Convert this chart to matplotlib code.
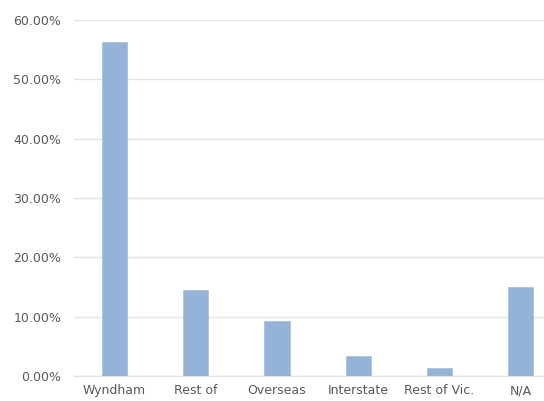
import numpy as np
import matplotlib.pyplot as plt
from matplotlib.ticker import FuncFormatter

categories = ['Wyndham', 'Rest of', 'Overseas', 'Interstate', 'Rest of Vic.', 'N/A']
shares = [56.2, 14.5, 9.3, 3.4, 1.4, 15.0]
yticks = [0, 10, 20, 30, 40, 50, 60]

plt.rcParams['font.family'] = ['DejaVu Sans']

fig = plt.figure(figsize=(5.44, 4.01), dpi=100)
ax = fig.add_axes([0.1358, 0.0623, 0.896, 0.888])

ind = np.arange(len(categories))
ax.bar(ind, shares, 0.31, color='#95b3d7', edgecolor='#a9c2e0', linewidth=0.6, zorder=3)

ax.set_xlim(-0.5, len(categories) - 0.5)
ax.set_ylim(0, 60)
ax.set_yticks(yticks)
ax.yaxis.set_major_formatter(FuncFormatter(lambda v, p: '{:.2f}%'.format(v)))
ax.set_xticks(ind)
ax.set_xticklabels(categories)

ax.grid(axis='y', color='#e3e3e3', linewidth=1.0, zorder=0)
for s in ['top', 'right', 'left']:
    ax.spines[s].set_visible(False)
ax.spines['bottom'].set_color('#e3e3e3')
ax.spines['bottom'].set_linewidth(1.0)
ax.tick_params(axis='both', length=0, labelsize=9, colors='#595959')
ax.tick_params(axis='y', pad=9)
ax.tick_params(axis='x', pad=6)

fig.savefig('out.png', dpi=100)
